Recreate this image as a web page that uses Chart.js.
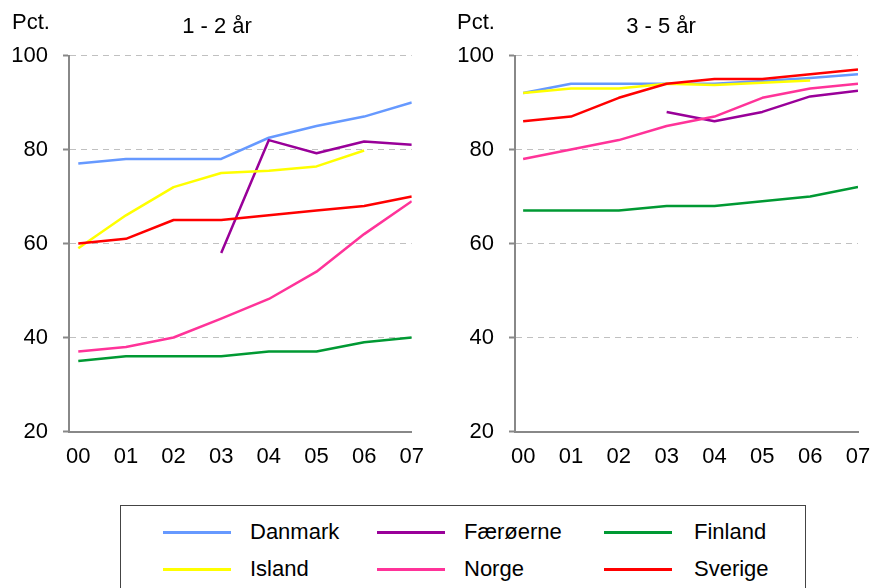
<!DOCTYPE html>
<html>
<head>
<meta charset="utf-8">
<script src="https://cdn.jsdelivr.net/npm/chart.js@4.4.1/dist/chart.umd.min.js"></script>
<style>
body { margin:0; width:873px; height:588px; background:#fff; overflow:hidden; position:relative; font-family:"Liberation Sans", Arial, sans-serif; }
.lbl { position:absolute; font-size:22px; color:#000; white-space:nowrap; line-height:1; }
.ttl { transform:translateX(-50%); }
#left { position:absolute; left:0; top:0; }
#right { position:absolute; left:436px; top:0; }
#legend { position:absolute; left:120px; top:505px; width:686px; height:100px; border:1px solid #444; box-sizing:border-box; }
.swatch { position:absolute; height:3px; width:68px; }
</style>
</head>
<body>
<canvas id="left" width="436" height="480"></canvas>
<canvas id="right" width="470" height="480"></canvas>
<div class="lbl" style="left:12px; top:11px;">Pct.</div>
<div class="lbl ttl" style="left:217px; top:15px;">1 - 2 år</div>
<div class="lbl" style="left:457px; top:11px;">Pct.</div>
<div class="lbl ttl" style="left:661px; top:15px;">3 - 5 år</div>
<div id="legend"></div>
<script>
// years on the x axis
var years = ['00', '01', '02', '03', '04', '05', '06', '07'];
var names = ['Danmark', 'Færøerne', 'Finland', 'Island', 'Norge', 'Sverige'];
var colors = ['#6699ff', '#990099', '#009933', '#ffff00', '#ff3399', '#ff0000'];

// 1 - 2 år
var danmark12   = [77, 78, 78, 78, 82.5, 85, 87, 90];
var faeroerne12 = [null, null, null, 58, 82, 79.2, 81.7, 81];
var finland12   = [35, 36, 36, 36, 37, 37, 39, 40];
var island12    = [59, 66, 72, 75, 75.5, 76.4, 79.8, null];
var norge12     = [37, 38, 40, 44, 48.2, 54, 62, 69];
var sverige12   = [60, 61, 65, 65, 66, 67, 68, 70];

// 3 - 5 år
var danmark35   = [92, 94, 94, 94, 94, 94.6, 95.2, 96];
var faeroerne35 = [null, null, null, 88, 86, 88, 91.3, 92.5];
var finland35   = [67, 67, 67, 68, 68, 69, 70, 72];
var island35    = [92, 93, 93, 94, 93.7, 94.2, 94.7, null];
var norge35     = [78, 80, 82, 85, 87, 91, 93, 94];
var sverige35   = [86, 87, 91, 94, 95, 95, 96, 97];

var yTicks = [20, 40, 60, 80, 100];

Chart.defaults.font.family = '"Liberation Sans", Arial, sans-serif';
Chart.defaults.font.size = 22;
Chart.defaults.color = '#000';

function makeChart(id, series, xMin, axisWidth, padRight) {
    var datasets = [];
    for (var i = 0; i < names.length; i++) {
        datasets.push({
            label: names[i],
            data: series[i].map(function(v, j) { return {x: j, y: v}; }),
            borderColor: colors[i],
            backgroundColor: colors[i],
            borderWidth: 2.5,
            pointRadius: 0,
            tension: 0,
            borderJoinStyle: 'round',
            spanGaps: false,
            order: names.length - 1 - i
        });
    }
    return new Chart(document.getElementById(id), {
        type: 'line',
        data: {datasets: datasets},
        options: {
            responsive: false,
            animation: false,
            layout: {padding: {top: 55.5, right: padRight, left: 0, bottom: 0}},
            plugins: {legend: {display: false}, tooltip: {enabled: false}},
            scales: {
                x: {
                    type: 'linear',
                    min: xMin,
                    max: 7,
                    afterBuildTicks: function(s) {
                        s.ticks = years.map(function(y, i) { return {value: i}; });
                    },
                    ticks: {
                        padding: 12,
                        maxRotation: 0,
                        autoSkip: false,
                        callback: function(v) { return years[v]; }
                    },
                    grid: {display: false, drawTicks: false},
                    border: {color: '#888', width: 2},
                    afterFit: function(s) { s.height = 48.5; }
                },
                y: {
                    min: 20,
                    max: 100,
                    afterBuildTicks: function(s) {
                        s.ticks = yTicks.map(function(v) { return {value: v}; });
                    },
                    ticks: {padding: 15},
                    grid: {
                        color: function(ctx) {
                            return (ctx.tick && ctx.tick.value === 20) ? 'rgba(0,0,0,0)' : '#c0c0c0';
                        },
                        lineWidth: 1,
                        tickColor: '#888',
                        tickLength: 6,
                        tickWidth: 2
                    },
                    border: {color: '#888', width: 2, dash: [6, 5]},
                    afterFit: function(s) { s.width = axisWidth; }
                }
            }
        }
    });
}

makeChart('left', [danmark12, faeroerne12, finland12, island12, norge12, sverige12], -0.195, 69, 24);
makeChart('right', [danmark35, faeroerne35, finland35, island35, norge35, sverige35], -0.17, 79, 48);

// legend built from the series names/colours
var legend = document.getElementById('legend');
var lineX = [163, 377, 604];
var textX = [250, 464, 694];
var rowY = [532, 569];
for (var k = 0; k < names.length; k++) {
    var col = k % 3, row = Math.floor(k / 3);
    var sw = document.createElement('div');
    sw.className = 'swatch';
    sw.style.left = (lineX[col] - 121) + 'px';
    sw.style.top = (rowY[row] - 1.5 - 506) + 'px';
    sw.style.background = colors[k];
    legend.appendChild(sw);
    var t = document.createElement('div');
    t.className = 'lbl';
    t.style.left = (textX[col] - 121) + 'px';
    t.style.top = (rowY[row] - 11 - 506) + 'px';
    t.textContent = names[k];
    legend.appendChild(t);
}
</script>
</body>
</html>
